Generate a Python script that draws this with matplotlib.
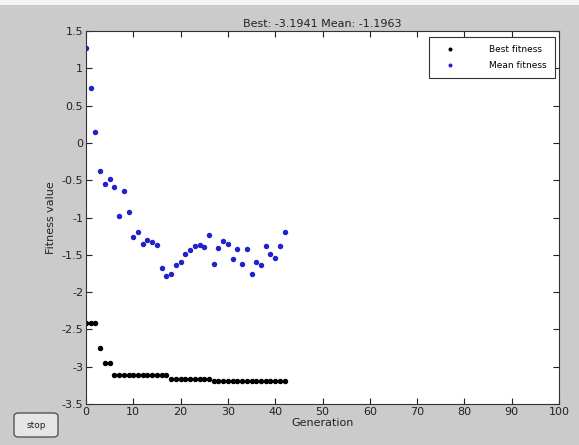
import matplotlib
matplotlib.use("Agg")
import matplotlib.pyplot as plt
from matplotlib.patches import FancyBboxPatch, Rectangle

generations = list(range(43))
best_fitness = [-2.42, -2.42, -2.42, -2.75, -2.95, -2.95,
                -3.11, -3.11, -3.11, -3.11, -3.11, -3.11, -3.11, -3.11, -3.11, -3.11, -3.11, -3.11,
                -3.16, -3.16, -3.16, -3.16, -3.16, -3.16, -3.16, -3.16, -3.16,
                -3.1941, -3.1941, -3.1941, -3.1941, -3.1941, -3.1941, -3.1941, -3.1941,
                -3.1941, -3.1941, -3.1941, -3.1941, -3.1941, -3.1941, -3.1941, -3.1941]
mean_fitness = [1.27, 0.73, 0.14, -0.375, -0.55, -0.48, -0.59, -0.975, -0.64, -0.93,
                -1.256, -1.193, -1.354, -1.305, -1.327, -1.367, -1.676, -1.79, -1.764, -1.631,
                -1.60, -1.484, -1.438, -1.385, -1.363, -1.394, -1.233, -1.63, -1.41, -1.314,
                -1.35, -1.559, -1.425, -1.618, -1.425, -1.76, -1.599, -1.631, -1.381, -1.484,
                -1.546, -1.377, -1.1963]
xticks = list(range(0, 101, 10))
yticks = [-3.5, -3, -2.5, -2, -1.5, -1, -0.5, 0, 0.5, 1, 1.5]
ytick_labels = ["-3.5", "-3", "-2.5", "-2", "-1.5", "-1", "-0.5", "0", "0.5", "1", "1.5"]

bg = "#cbcbcb"
fig = plt.figure(figsize=(5.79, 4.45), dpi=100, facecolor=bg)
# light strip at top
fig.patches.append(Rectangle((0, 1 - 5/445), 1, 5/445, transform=fig.transFigure,
                             facecolor="#f4f4f4", edgecolor="none", zorder=0))

ax = fig.add_axes([86/579, 1 - 404/445, (559-86)/579, (404-31)/445])
ax.set_facecolor("white")
ax.plot(generations, best_fitness, linestyle="none", marker="o", markersize=2.9,
        color="black", label="Best fitness")
ax.plot(generations, mean_fitness, linestyle="none", marker="o", markersize=2.9,
        color="#2222cc", label="Mean fitness")
ax.set_xlim(0, 100)
ax.set_ylim(-3.5, 1.5)
ax.set_xticks(xticks)
ax.set_yticks(yticks)
ax.set_yticklabels(ytick_labels)
ax.tick_params(direction="in", length=4, labelsize=8, top=True, right=True,
               colors="#222222", pad=2)
for s in ax.spines.values():
    s.set_color("#333333")
    s.set_linewidth(0.8)
ax.set_title("Best: -3.1941 Mean: -1.1963", fontsize=8, color="#222222", pad=3)
ax.set_xlabel("Generation", fontsize=8, color="#222222", labelpad=1)
ax.set_ylabel("Fitness value", fontsize=8, color="#222222", labelpad=4)
leg = ax.legend(loc="upper right", bbox_to_anchor=(0.992, 0.983), fontsize=6.5,
                markerscale=0.65, handlelength=2.8,
                fancybox=False, framealpha=1, edgecolor="#333333",
                borderpad=0.9, labelspacing=0.75, handletextpad=3.0,
                borderaxespad=0)
leg.get_frame().set_linewidth(0.8)

# stop button
btn = FancyBboxPatch((14/579, 1 - 437/445), 44/579, 24/445,
                     boxstyle="round,pad=0,rounding_size=0.008",
                     transform=fig.transFigure, facecolor="#e6e6e6",
                     edgecolor="#555555", linewidth=1.0)
fig.patches.append(btn)
fig.text(36/579, 1 - 425/445, "stop", ha="center", va="center", fontsize=6.5,
         color="#222222")

fig.savefig("out.png", dpi=100, facecolor=bg)
